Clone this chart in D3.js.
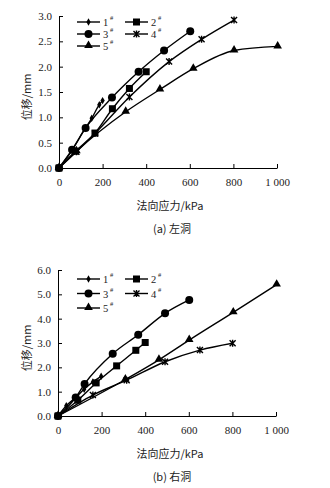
<!DOCTYPE html>
<html>
<head>
<meta charset="utf-8">
<script src="https://cdn.jsdelivr.net/npm/d3@7"></script>
<style>
  body { margin: 0; background: #fff; }
  .axis path, .axis line { stroke: #000; stroke-width: 1; }
  .axis text { font-family: "Liberation Serif", serif; font-size: 11px; fill: #222; }
</style>
</head>
<body>
<div id="chart"></div>
<script>
// series labels (1#..5#)
var seriesNames = ["1", "2", "3", "4", "5"];
var markerTypes = ["diamond", "square", "circle", "star", "triangle"];

// (a) 左洞 -- normal stress (kPa) vs displacement (mm)
var stressA1 = [0, 60, 120, 150, 185, 200];
var dispA1   = [0, 0.35, 0.78, 0.98, 1.25, 1.33];
var stressA2 = [0, 75, 165, 245, 323, 400];
var dispA2   = [0, 0.33, 0.69, 1.17, 1.57, 1.90];
var stressA3 = [0, 60, 122, 243, 365, 482, 602];
var dispA3   = [0, 0.36, 0.79, 1.39, 1.90, 2.32, 2.70];
var stressA4 = [0, 80, 165, 323, 505, 654, 803];
var dispA4   = [0, 0.32, 0.68, 1.40, 2.10, 2.54, 2.92];
var stressA5 = [0, 80, 306, 463, 616, 803, 1003];
var dispA5   = [0, 0.33, 1.11, 1.55, 1.96, 2.32, 2.40];

// (b) 右洞
var stressB1 = [0, 38, 80, 120, 160, 198];
var dispB1   = [0, 0.42, 0.75, 1.10, 1.40, 1.63];
var stressB2 = [0, 91, 175, 269, 357, 400];
var dispB2   = [0, 0.65, 1.36, 2.06, 2.70, 3.02];
var stressB3 = [0, 81, 122, 251, 368, 491, 602];
var dispB3   = [0, 0.76, 1.32, 2.56, 3.34, 4.22, 4.77];
var stressB4 = [0, 160, 315, 491, 651, 801];
var dispB4   = [0, 0.86, 1.47, 2.23, 2.71, 2.99];
var stressB5 = [0, 309, 463, 602, 804, 1003];
var dispB5   = [0, 1.50, 2.31, 3.12, 4.26, 5.40];

// axis ticks
var xTicks = [0, 200, 400, 600, 800, 1000];
var yTicksA = [0, 0.5, 1.0, 1.5, 2.0, 2.5, 3.0];
var yTicksB = [0, 1.0, 2.0, 3.0, 4.0, 5.0, 6.0];

var xTitle = "法向应力/kPa";
var yTitle = "位移/mm";

function zipSeries(xs, ys) {
    return xs.map(function(x, i) { return { x: x, y: ys[i] }; });
}

var panels = [
    {
        caption: "(a) 左洞", top: 0, yMax: 3, yTicks: yTicksA,
        x0: 59, x1: 277, yBottom: 168, yTop: 16,
        legendY: 22, legendStep: 12,
        series: [zipSeries(stressA1, dispA1), zipSeries(stressA2, dispA2), zipSeries(stressA3, dispA3),
                 zipSeries(stressA4, dispA4), zipSeries(stressA5, dispA5)]
    },
    {
        caption: "(b) 右洞", top: 248, yMax: 6, yTicks: yTicksB,
        x0: 58, x1: 276, yBottom: 168, yTop: 22,
        legendY: 31, legendStep: 14.5,
        series: [zipSeries(stressB1, dispB1), zipSeries(stressB2, dispB2), zipSeries(stressB3, dispB3),
                 zipSeries(stressB4, dispB4), zipSeries(stressB5, dispB5)]
    }
];

var svg = d3.select("#chart").append("svg")
    .attr("width", 330)
    .attr("height", 488);

function drawMarker(g, type, cx, cy) {
    if (type === "circle") {
        g.append("circle").attr("cx", cx).attr("cy", cy).attr("r", 4).attr("fill", "#000");
    } else if (type === "square") {
        g.append("rect").attr("x", cx - 3.5).attr("y", cy - 3.5)
            .attr("width", 7).attr("height", 7).attr("fill", "#000");
    } else if (type === "triangle") {
        g.append("path").attr("d", d3.symbol().type(d3.symbolTriangle).size(32)())
            .attr("transform", "translate(" + cx + "," + (cy - 0.5) + ")").attr("fill", "#000");
    } else if (type === "diamond") {
        g.append("path").attr("d", d3.symbol().type(d3.symbolDiamond).size(16)())
            .attr("transform", "translate(" + cx + "," + cy + ")").attr("fill", "#000");
    } else if (type === "star") {
        g.append("path")
            .attr("d", "M-3,-3L3,3M-3,3L3,-3M0,-3.5L0,3.5")
            .attr("transform", "translate(" + cx + "," + cy + ")")
            .attr("stroke", "#000").attr("stroke-width", 1.4).attr("fill", "none");
    }
}

panels.forEach(function(p) {
    var g = svg.append("g").attr("transform", "translate(0," + p.top + ")");

    var x = d3.scaleLinear().domain([0, 1000]).range([p.x0, p.x1]);
    var y = d3.scaleLinear().domain([0, p.yMax]).range([p.yBottom, p.yTop]);

    var xAxis = d3.axisBottom(x).tickValues(xTicks).tickSizeInner(-4).tickSizeOuter(0)
        .tickPadding(10)
        .tickFormat(function(d) { return d === 1000 ? "1 000" : d; });
    var yAxis = d3.axisLeft(y).tickValues(p.yTicks).tickSizeInner(-4).tickSizeOuter(0)
        .tickPadding(7)
        .tickFormat(function(d) { return d.toFixed(1); });

    g.append("g").attr("class", "axis")
        .attr("transform", "translate(0," + p.yBottom + ")")
        .call(xAxis);
    g.append("g").attr("class", "axis")
        .attr("transform", "translate(" + p.x0 + ",0)")
        .call(yAxis);

    var line = d3.line()
        .x(function(d) { return x(d.x); })
        .y(function(d) { return y(d.y); })
        .curve(d3.curveMonotoneX);

    p.series.forEach(function(s, i) {
        g.append("path")
            .datum(s)
            .attr("d", line)
            .attr("fill", "none")
            .attr("stroke", "#000")
            .attr("stroke-width", 1.4);
        s.forEach(function(d) {
            drawMarker(g, markerTypes[i], x(d.x), y(d.y));
        });
    });

    // legend
    var legend = g.append("g").attr("transform", "translate(77," + p.legendY + ")");
    seriesNames.forEach(function(name, i) {
        var col = i % 2, row = Math.floor(i / 2);
        var lx = col * 48, ly = row * p.legendStep;
        legend.append("line")
            .attr("x1", lx).attr("x2", lx + 23)
            .attr("y1", ly).attr("y2", ly)
            .attr("stroke", "#000").attr("stroke-width", 1.4);
        drawMarker(legend, markerTypes[i], lx + 11.5, ly);
        legend.append("text")
            .attr("x", lx + 26).attr("y", ly + 4)
            .attr("font-family", "Liberation Serif, serif")
            .attr("font-size", 10.5).attr("fill", "#222")
            .text(name);
        legend.append("text")
            .attr("x", lx + 33).attr("y", ly - 2)
            .attr("font-family", "Liberation Serif, serif")
            .attr("font-size", 6.5).attr("fill", "#222")
            .text("#");
    });

    // axis titles
    g.append("text")
        .attr("x", 170).attr("y", p.yBottom + 42)
        .attr("text-anchor", "middle")
        .attr("font-family", "Noto Sans CJK SC, sans-serif")
        .attr("font-size", 11).attr("fill", "#222")
        .text(xTitle);
    g.append("text")
        .attr("transform", "translate(31," + ((p.yBottom + p.yTop) / 2 + 5) + ") rotate(-90)")
        .attr("text-anchor", "middle")
        .attr("font-family", "Noto Sans CJK SC, sans-serif")
        .attr("font-size", 11).attr("fill", "#222")
        .text(yTitle);
    g.append("text")
        .attr("x", 172).attr("y", p.yBottom + 65)
        .attr("text-anchor", "middle")
        .attr("font-family", "Noto Sans CJK SC, sans-serif")
        .attr("font-size", 11).attr("fill", "#222")
        .text(p.caption);
});
</script>
</body>
</html>
